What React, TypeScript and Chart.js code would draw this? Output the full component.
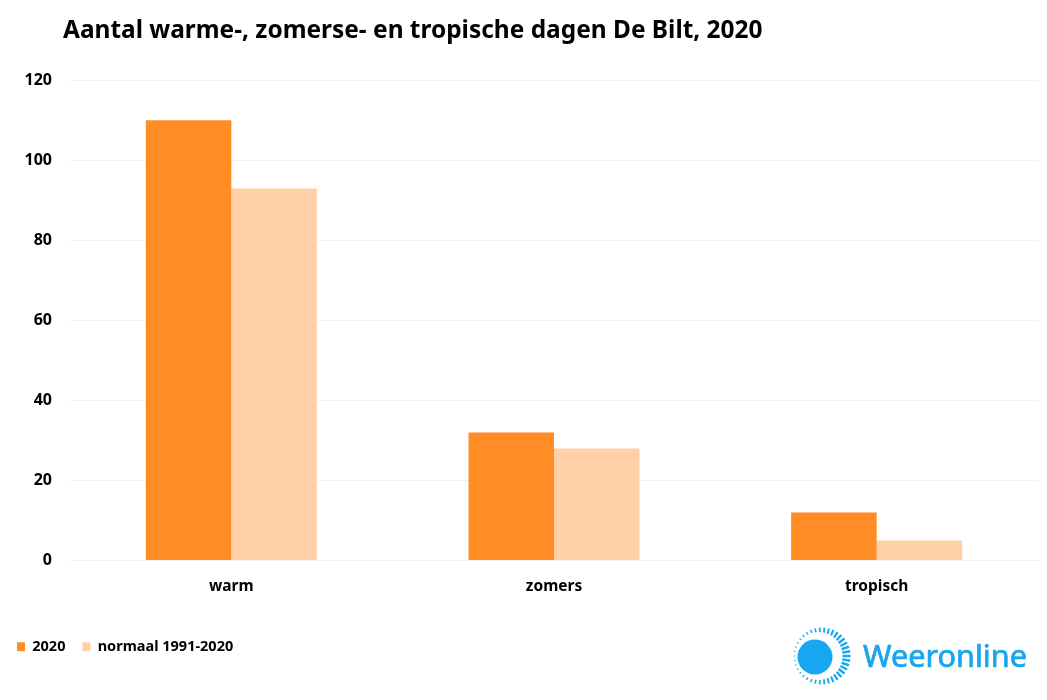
import React, { useEffect, useRef } from "react";
import { Chart, registerables } from "chart.js";

Chart.register(...registerables);

const titleText = "Aantal warme-, zomerse- en tropische dagen De Bilt, 2020";
const categories = ["warm", "zomers", "tropisch"];
const series2020 = [110, 32, 12];
const seriesNormal = [93, 28, 5];
const label2020 = "2020";
const labelNormal = "normaal 1991-2020";
const FONT = "'Noto Sans', 'Open Sans', sans-serif";
const BLUE = "#18A6F0";

const titleShift = {
  id: "titleShift",
  afterLayout(chart: any) {
    if (chart.titleBlock) chart.titleBlock.left = 63;
  },
};

function Logo() {
  const rays = [];
  const n = 38;
  for (let i = 0; i < n; i++) {
    const a = (i / n) * Math.PI * 2;
    const k = (Math.cos(a) + 1) / 2;
    const r1 = 27 - k * 6.5;
    const r2 = 28.5;
    rays.push(
      <line
        key={i}
        x1={822 + Math.cos(a) * r1}
        y1={656 + Math.sin(a) * r1}
        x2={822 + Math.cos(a) * r2}
        y2={656 + Math.sin(a) * r2}
        stroke={BLUE}
        strokeWidth={1 + k * 1.5}
      />
    );
  }
  return (
    <svg width={1047} height={700} style={{ position: "absolute", left: 0, top: 0, pointerEvents: "none" }}>
      {rays}
      <circle cx={815} cy={657} r={17.5} fill={BLUE} />
      <text
        x={863}
        y={667}
        fill={BLUE}
        stroke={BLUE}
        strokeWidth={0.7}
        fontFamily={FONT}
        fontSize={30}
        textLength={164}
        lengthAdjust="spacingAndGlyphs"
      >
        Weeronline
      </text>
    </svg>
  );
}

export default function App() {
  const ref = useRef<HTMLCanvasElement>(null);
  useEffect(() => {
    const chart = new Chart(ref.current!, {
      type: "bar",
      data: {
        labels: categories,
        datasets: [
          { label: label2020, data: series2020, backgroundColor: "#FF8C24" },
          { label: labelNormal, data: seriesNormal, backgroundColor: "#FFD0A6" },
        ],
      },
      plugins: [titleShift],
      options: {
        animation: false,
        responsive: false,
        devicePixelRatio: 1,
        layout: { padding: { left: 0, right: 9, top: 0, bottom: 36 } },
        datasets: { bar: { categoryPercentage: 0.53, barPercentage: 1 } },
        plugins: {
          title: {
            display: true,
            text: titleText,
            align: "start",
            color: "#000",
            font: { family: FONT, size: 24.45, weight: "bold" },
            padding: { top: 16, bottom: 35 },
          },
          legend: {
            position: "bottom",
            align: "start",
            labels: {
              boxWidth: 8,
              boxHeight: 9,
              color: "#000",
              padding: 17,
              font: { family: FONT, size: 14.5, weight: "bold" },
            },
          },
          tooltip: { enabled: false },
        },
        scales: {
          x: {
            grid: { display: false },
            border: { color: "#F2F2F2" },
            afterFit(s: any) {
              s.height = 62;
            },
            ticks: { color: "#000", padding: 9, font: { family: FONT, size: 15.5, weight: "bold" } },
          },
          y: {
            min: 0,
            max: 120,
            afterFit(s: any) {
              s.width = 70;
            },
            grid: { color: "#F2F2F2", drawTicks: false },
            border: { display: false },
            ticks: { stepSize: 20, color: "#000", padding: 18, font: { family: FONT, size: 16, weight: "bold" } },
          },
        },
      },
    } as any);
    return () => chart.destroy();
  }, []);
  return (
    <div style={{ position: "absolute", left: 0, top: 0, width: 1047, height: 700, background: "#fff" }}>
      <canvas ref={ref} width={1047} height={700} style={{ display: "block" }} />
      <Logo />
    </div>
  );
}
